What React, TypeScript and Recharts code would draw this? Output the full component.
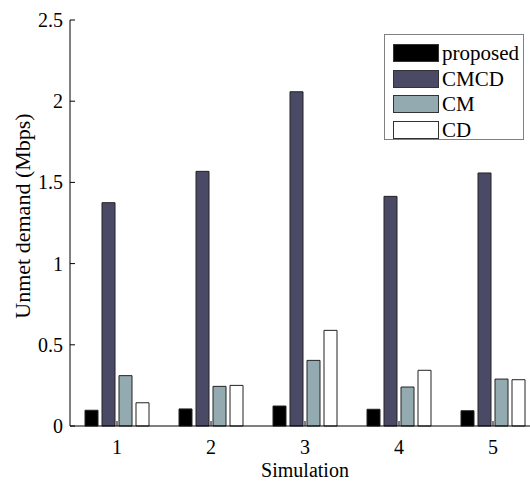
import React from 'react';
import { BarChart, Bar, XAxis, YAxis } from 'recharts';

const simulations = ['1', '2', '3', '4', '5'];
const proposed = [0.097, 0.105, 0.123, 0.103, 0.094];
const cmcd = [1.375, 1.568, 2.058, 1.414, 1.558];
const cm = [0.31, 0.244, 0.404, 0.24, 0.289];
const cd = [0.143, 0.25, 0.589, 0.343, 0.285];
const yTicks = [0, 0.5, 1, 1.5, 2, 2.5];

const series = [
  { key: 'proposed', name: 'proposed', values: proposed, color: '#000000' },
  { key: 'cmcd', name: 'CMCD', values: cmcd, color: '#4a4a66' },
  { key: 'cm', name: 'CM', values: cm, color: '#93abb0' },
  { key: 'cd', name: 'CD', values: cd, color: '#ffffff' },
];

const data = simulations.map((sim, i) => {
  const row: Record<string, string | number> = { sim };
  series.forEach((s) => {
    row[s.key] = s.values[i];
  });
  return row;
});

const FONT = '"Liberation Serif", "Times New Roman", serif';

// MATLAB style ticks: drawn inward from the axis line
const LeftTick = (props: any) => {
  const { x, y, payload } = props;
  return (
    <g>
      <line x1={x} y1={y} x2={x + 5} y2={y} stroke="#000" />
      <text x={x - 7} y={y + 7} textAnchor="end" fontFamily={FONT} fontSize={20} fill="#000">
        {payload.value}
      </text>
    </g>
  );
};

const BottomTick = (props: any) => {
  const { x, y, payload } = props;
  return (
    <g>
      <line x1={x} y1={y} x2={x} y2={y - 5} stroke="#000" />
      <text x={x} y={y + 28} textAnchor="middle" fontFamily={FONT} fontSize={20} fill="#000">
        {payload.value}
      </text>
    </g>
  );
};

const TopTick = (props: any) => {
  const { x, y } = props;
  return <line x1={x} y1={y} x2={x} y2={y + 5} stroke="#000" />;
};

const YLabel = () => (
  <text
    transform="translate(30,216) rotate(-90)"
    textAnchor="middle"
    fontFamily={FONT}
    fontSize={22}
    fill="#000"
  >
    Unmet demand (Mbps)
  </text>
);

const XLabel = () => (
  <text x={305} y={477} textAnchor="middle" fontFamily={FONT} fontSize={20} fill="#000">
    Simulation
  </text>
);

export default function App() {
  return (
    <div
      style={{
        position: 'absolute',
        left: 0,
        top: 0,
        width: 530,
        height: 481,
        overflow: 'hidden',
        background: '#fff',
      }}
    >
      <BarChart
        width={560}
        height={481}
        data={data}
        margin={{ top: 20, right: 20, bottom: 0, left: 0 }}
        barSize={13}
        barGap={4}
      >
        <XAxis
          dataKey="sim"
          height={55}
          tickSize={0}
          tickMargin={0}
          tickLine={false}
          axisLine={{ stroke: '#000' }}
          tick={<BottomTick />}
          interval={0}
          label={<XLabel />}
        />
        <XAxis
          xAxisId="top"
          dataKey="sim"
          orientation="top"
          height={0}
          tickSize={0}
          tickMargin={0}
          tickLine={false}
          axisLine={{ stroke: '#000' }}
          tick={<TopTick />}
          interval={0}
        />
        <YAxis
          width={70}
          domain={[0, 2.5]}
          ticks={yTicks}
          tickSize={0}
          tickMargin={0}
          tickLine={false}
          axisLine={{ stroke: '#000' }}
          tick={<LeftTick />}
          interval={0}
          label={<YLabel />}
        />
        <YAxis
          yAxisId="right"
          orientation="right"
          width={0}
          domain={[0, 2.5]}
          ticks={yTicks}
          tick={false}
          tickLine={false}
          axisLine={{ stroke: '#000' }}
        />
        {series.map((s) => (
          <Bar
            key={s.key}
            dataKey={s.key}
            name={s.name}
            fill={s.color}
            stroke="#222"
            strokeWidth={1}
            isAnimationActive={false}
          />
        ))}
      </BarChart>
      <div
        style={{
          position: 'absolute',
          left: 384,
          top: 34,
          width: 140,
          height: 106,
          border: '1px solid #808080',
          background: '#fff',
          boxSizing: 'border-box',
          paddingTop: 5,
        }}
      >
        {series.map((s) => (
          <div
            key={s.key}
            style={{ display: 'flex', alignItems: 'center', height: 25.7, marginLeft: 8 }}
          >
            <div
              style={{
                width: 46,
                height: 18,
                background: s.color,
                border: '1px solid #333',
                boxSizing: 'border-box',
              }}
            />
            <span
              style={{
                fontFamily: FONT,
                fontSize: 21,
                marginLeft: 3,
                lineHeight: '20px',
                color: '#000',
              }}
            >
              {s.name}
            </span>
          </div>
        ))}
      </div>
    </div>
  );
}
